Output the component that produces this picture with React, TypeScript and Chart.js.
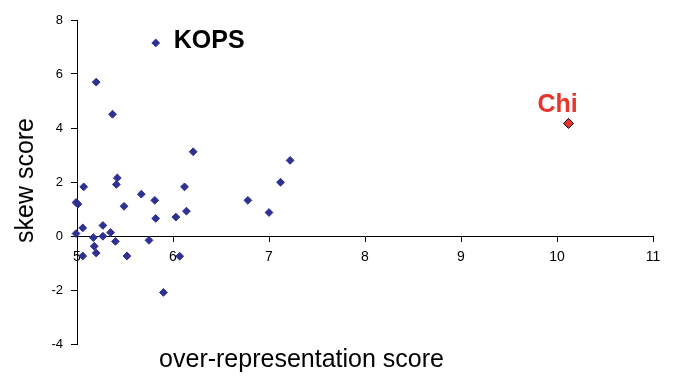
import React, { useEffect, useRef } from "react";
import { Chart, registerables } from "chart.js";

Chart.register(...registerables);

// over-representation score (x), skew score (y)
const genePoints: { x: number; y: number }[] = [
  { x: 5.82, y: 7.15 }, { x: 5.2, y: 5.7 }, { x: 5.37, y: 4.51 }, { x: 5.42, y: 2.15 },
  { x: 5.41, y: 1.91 }, { x: 5.07, y: 1.82 }, { x: 4.99, y: 1.24 }, { x: 5.01, y: 1.18 },
  { x: 5.49, y: 1.1 }, { x: 5.67, y: 1.55 }, { x: 5.81, y: 1.32 }, { x: 5.82, y: 0.65 },
  { x: 6.03, y: 0.7 }, { x: 6.12, y: 1.82 }, { x: 6.14, y: 0.92 }, { x: 6.21, y: 3.12 },
  { x: 6.78, y: 1.32 }, { x: 7.0, y: 0.87 }, { x: 7.12, y: 1.99 }, { x: 7.22, y: 2.8 },
  { x: 6.07, y: -0.75 }, { x: 4.99, y: 0.09 }, { x: 5.06, y: 0.3 }, { x: 5.17, y: -0.06 },
  { x: 5.27, y: -0.01 }, { x: 5.27, y: 0.39 }, { x: 5.35, y: 0.13 }, { x: 5.4, y: -0.2 },
  { x: 5.18, y: -0.38 }, { x: 5.2, y: -0.63 }, { x: 5.06, y: -0.74 }, { x: 5.52, y: -0.74 },
  { x: 5.75, y: -0.16 }, { x: 5.9, y: -2.09 },
];
const chiPoint: { x: number; y: number }[] = [{ x: 10.12, y: 4.17 }];

const xRange = [5, 11];
const yRange = [-4, 8];
const xStep = 1;
const yStep = 2;

const xTitle = "over-representation score";
const yTitle = "skew score";

// labelled points: text, dataset index, point index, color, offsets, align
const pointLabels = [
  { text: "KOPS", ds: 0, idx: 0, color: "#000000", dx: 18, dy: 5, align: "left" },
  { text: "Chi", ds: 1, idx: 0, color: "#E8352B", dx: -11, dy: -11, align: "center" },
];

const FONT = "'Liberation Sans', Arial, sans-serif";

const textPlugin = {
  id: "textPlugin",
  afterDraw(chart: any) {
    const ctx = chart.ctx;
    const area = chart.chartArea;
    ctx.save();
    ctx.fillStyle = "#000";
    ctx.font = `25px ${FONT}`;
    ctx.textAlign = "center";
    ctx.textBaseline = "alphabetic";
    ctx.fillText(xTitle, 301.5, 367);
    ctx.save();
    ctx.translate(33, (area.top + area.bottom) / 2 - 1.5);
    ctx.rotate(-Math.PI / 2);
    ctx.fillText(yTitle, 0, 0);
    ctx.restore();
    ctx.font = `bold 25px ${FONT}`;
    for (const l of pointLabels) {
      const el = chart.getDatasetMeta(l.ds).data[l.idx];
      if (!el) continue;
      ctx.fillStyle = l.color;
      ctx.textAlign = l.align;
      ctx.fillText(l.text, el.x + l.dx, el.y + l.dy);
    }
    ctx.restore();
  },
};

export default function App() {
  const ref = useRef<HTMLCanvasElement>(null);
  useEffect(() => {
    if (!ref.current) return;
    const chart = new Chart(ref.current, {
      type: "scatter",
      data: {
        datasets: [
          {
            data: genePoints,
            pointStyle: "rectRot",
            pointRadius: 3.9,
            pointBorderWidth: 1,
            backgroundColor: "#2E3192",
            borderColor: "#2E3192",
            clip: false,
          },
          {
            data: chiPoint,
            pointStyle: "rectRot",
            pointRadius: 5,
            pointBorderWidth: 1,
            backgroundColor: "#E8352B",
            borderColor: "#000000",
            clip: false,
          },
        ],
      },
      options: {
        responsive: false,
        animation: false,
        events: [],
        layout: { padding: { left: 0, right: 20, top: 20, bottom: 32 } },
        plugins: { legend: { display: false }, tooltip: { enabled: false } },
        scales: {
          x: {
            type: "linear",
            position: { y: 0 },
            min: xRange[0],
            max: xRange[1],
            ticks: {
              stepSize: xStep,
              color: "#000",
              font: { family: FONT, size: 14 },
              padding: 8,
              maxRotation: 0,
            },
            grid: { drawOnChartArea: false, drawTicks: true, tickLength: 5, color: "#000" },
            border: { display: true, color: "#000", width: 1 },
          },
          y: {
            type: "linear",
            position: "left",
            min: yRange[0],
            max: yRange[1],
            afterFit: (s: any) => {
              s.width = 77;
            },
            ticks: {
              stepSize: yStep,
              color: "#000",
              font: { family: FONT, size: 13 },
              padding: 8,
            },
            grid: { drawOnChartArea: false, drawTicks: true, tickLength: 6, color: "#000" },
            border: { display: true, color: "#000", width: 1 },
          },
        },
      },
      plugins: [textPlugin],
    });
    return () => chart.destroy();
  }, []);
  return (
    <div style={{ position: "absolute", left: 0, top: 0, width: 673, height: 376, background: "#fff" }}>
      <canvas ref={ref} width={673} height={376} style={{ display: "block" }} />
    </div>
  );
}
